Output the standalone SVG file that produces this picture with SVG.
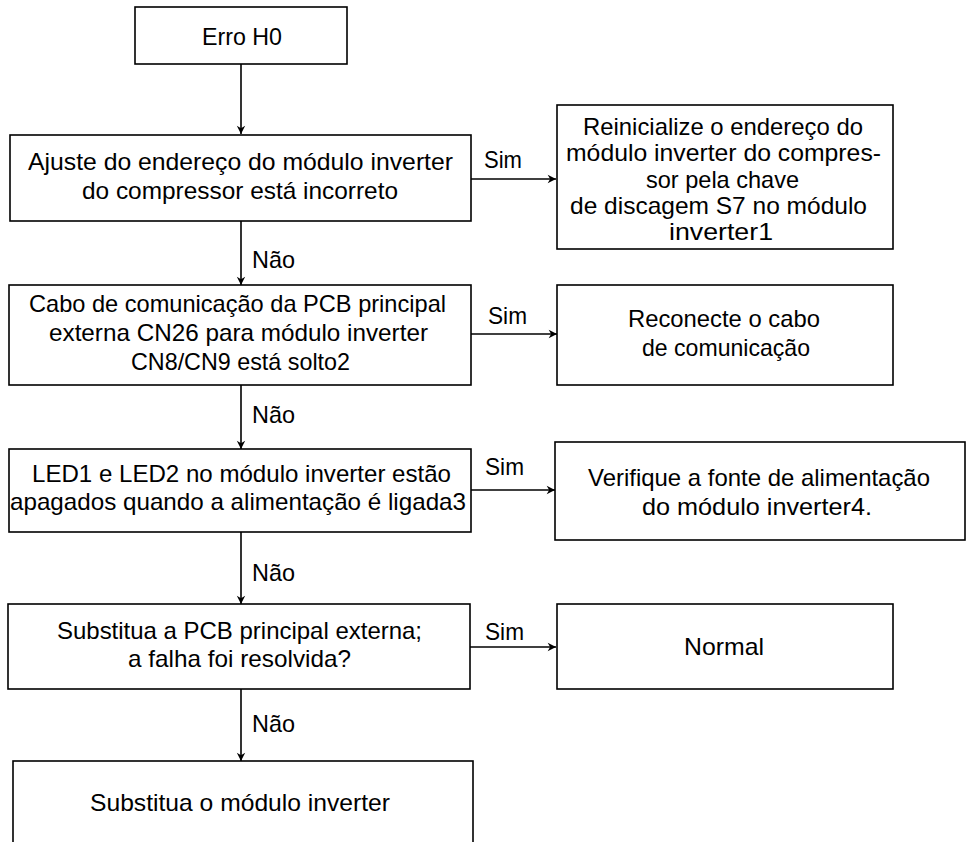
<svg xmlns="http://www.w3.org/2000/svg" width="967" height="842" viewBox="0 0 967 842">
<style>
  .box { fill: #ffffff; stroke: #000000; stroke-width: 1.6; }
  .t { font-family: "Liberation Sans", Arial, sans-serif; font-size: 24px; fill: #000000; text-anchor: middle; }
  .lbl { font-family: "Liberation Sans", Arial, sans-serif; font-size: 24px; fill: #000000; }
  .edge { fill: none; stroke: #000000; stroke-width: 1.6; marker-end: url(#arr); }
</style>
<defs>
  <marker id="arr" viewBox="0 0 12 12" refX="11" refY="6" markerWidth="10" markerHeight="10" markerUnits="userSpaceOnUse" orient="auto">
    <path d="M1,1 L11,6 L1,11 L4,6 Z" fill="#000000"/>
  </marker>
</defs>
<rect width="967" height="842" fill="#ffffff"/>

<g id="connectors">
  <line class="edge" x1="241" y1="64" x2="241" y2="134"/>
  <line class="edge" x1="471" y1="179" x2="556" y2="179"/>
  <line class="edge" x1="241" y1="221" x2="241" y2="285"/>
  <line class="edge" x1="471" y1="334" x2="557" y2="334"/>
  <line class="edge" x1="241" y1="385" x2="241" y2="449"/>
  <line class="edge" x1="471" y1="490" x2="555" y2="490"/>
  <line class="edge" x1="241" y1="532" x2="241" y2="604"/>
  <line class="edge" x1="470" y1="647" x2="556" y2="647"/>
  <line class="edge" x1="241" y1="689" x2="241" y2="761"/>
  <text class="lbl" x="484" y="168" textLength="38" lengthAdjust="spacingAndGlyphs">Sim</text>
  <text class="lbl" x="252" y="268" textLength="43" lengthAdjust="spacingAndGlyphs">Não</text>
  <text class="lbl" x="488" y="324" textLength="39" lengthAdjust="spacingAndGlyphs">Sim</text>
  <text class="lbl" x="252" y="423" textLength="43" lengthAdjust="spacingAndGlyphs">Não</text>
  <text class="lbl" x="485" y="475" textLength="39" lengthAdjust="spacingAndGlyphs">Sim</text>
  <text class="lbl" x="252" y="581" textLength="43" lengthAdjust="spacingAndGlyphs">Não</text>
  <text class="lbl" x="485" y="640" textLength="39" lengthAdjust="spacingAndGlyphs">Sim</text>
  <text class="lbl" x="252" y="732" textLength="43" lengthAdjust="spacingAndGlyphs">Não</text>
</g>

<g id="n-erro">
  <rect class="box" x="135" y="7" width="212" height="57"/>
  <text class="t" x="242" y="45" textLength="80" lengthAdjust="spacingAndGlyphs">Erro H0</text>
</g>

<g id="n-ajuste">
  <rect class="box" x="10" y="135" width="461" height="86"/>
  <text class="t" x="240.5" y="170" textLength="425" lengthAdjust="spacingAndGlyphs">Ajuste do endereço do módulo inverter</text>
  <text class="t" x="240" y="199" textLength="316" lengthAdjust="spacingAndGlyphs">do compressor está incorreto</text>
</g>

<g id="n-reinicialize">
  <rect class="box" x="557" y="105" width="336" height="144"/>
  <text class="t" x="723" y="135" textLength="280" lengthAdjust="spacingAndGlyphs">Reinicialize o endereço do</text>
  <text class="t" x="723.5" y="161" textLength="315" lengthAdjust="spacingAndGlyphs">módulo inverter do compres-</text>
  <text class="t" x="722.5" y="188" textLength="153" lengthAdjust="spacingAndGlyphs">sor pela chave</text>
  <text class="t" x="718.5" y="214" textLength="297" lengthAdjust="spacingAndGlyphs">de discagem S7 no módulo</text>
  <text class="t" x="721" y="240" textLength="104" lengthAdjust="spacingAndGlyphs">inverter1</text>
</g>

<g id="n-cabo">
  <rect class="box" x="9" y="285" width="462" height="100"/>
  <text class="t" x="237.5" y="312" textLength="417" lengthAdjust="spacingAndGlyphs">Cabo de comunicação da PCB principal</text>
  <text class="t" x="238.5" y="341" textLength="379" lengthAdjust="spacingAndGlyphs">externa CN26 para módulo inverter</text>
  <text class="t" x="240.5" y="370" textLength="219" lengthAdjust="spacingAndGlyphs">CN8/CN9 está solto2</text>
</g>

<g id="n-reconecte">
  <rect class="box" x="557" y="285" width="336" height="100"/>
  <text class="t" x="724" y="327" textLength="192" lengthAdjust="spacingAndGlyphs">Reconecte o cabo</text>
  <text class="t" x="726" y="356" textLength="168" lengthAdjust="spacingAndGlyphs">de comunicação</text>
</g>

<g id="n-led">
  <rect class="box" x="9" y="449" width="462" height="83"/>
  <text class="t" x="241.5" y="482" textLength="419" lengthAdjust="spacingAndGlyphs">LED1 e LED2 no módulo inverter estão</text>
  <text class="t" x="238" y="510" textLength="456" lengthAdjust="spacingAndGlyphs">apagados quando a alimentação é ligada3</text>
</g>

<g id="n-verifique">
  <rect class="box" x="555" y="442" width="410" height="98"/>
  <text class="t" x="759" y="486" textLength="342" lengthAdjust="spacingAndGlyphs">Verifique a fonte de alimentação</text>
  <text class="t" x="757" y="515" textLength="230" lengthAdjust="spacingAndGlyphs">do módulo inverter4.</text>
</g>

<g id="n-substitua-pcb">
  <rect class="box" x="8" y="604" width="462" height="85"/>
  <text class="t" x="239.5" y="639" textLength="365" lengthAdjust="spacingAndGlyphs">Substitua a PCB principal externa;</text>
  <text class="t" x="239.5" y="667" textLength="223" lengthAdjust="spacingAndGlyphs">a falha foi resolvida?</text>
</g>

<g id="n-normal">
  <rect class="box" x="557" y="604" width="336" height="85"/>
  <text class="t" x="724" y="655" textLength="80" lengthAdjust="spacingAndGlyphs">Normal</text>
</g>

<g id="n-substitua-modulo">
  <rect class="box" x="13" y="761" width="460" height="100"/>
  <text class="t" x="240" y="811" textLength="300" lengthAdjust="spacingAndGlyphs">Substitua o módulo inverter</text>
</g>
</svg>
